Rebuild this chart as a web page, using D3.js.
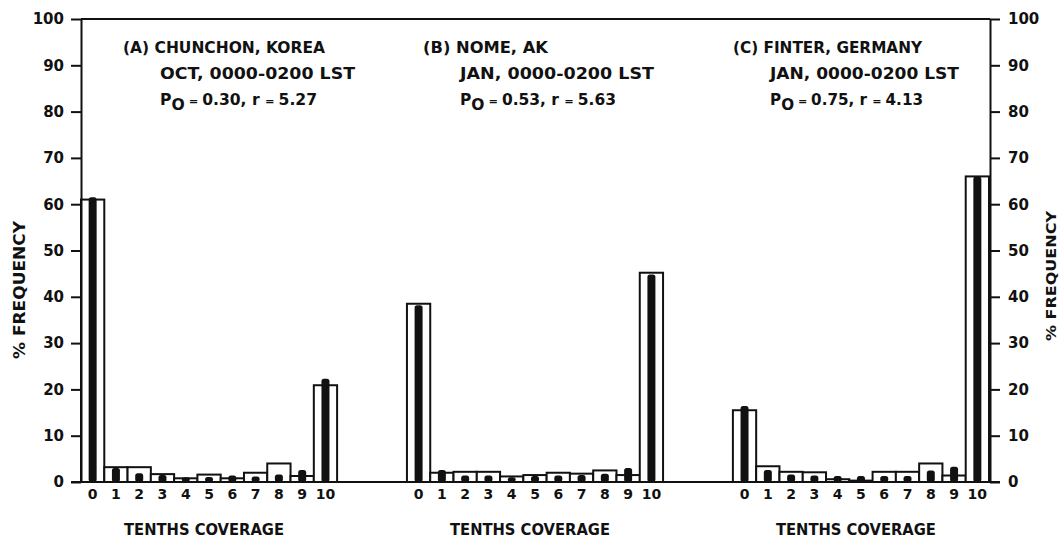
<!DOCTYPE html>
<html>
<head>
<meta charset="utf-8">
<script src="https://cdn.jsdelivr.net/npm/d3@7"></script>
<style>
  html, body { margin: 0; padding: 0; background: #fff; }
  svg { display: block; }
  text { font-family: "DejaVu Sans", sans-serif; font-weight: bold; fill: #111; }
</style>
</head>
<body>
<svg id="chart" width="1060" height="538"></svg>
<script>
// Cloud cover frequency distributions (tenths), observed vs. model
const categories = ["0", "1", "2", "3", "4", "5", "6", "7", "8", "9", "10"];
const yTicks = [0, 10, 20, 30, 40, 50, 60, 70, 80, 90, 100];

// observed % frequency (open bars)
const observedA = [61.0, 3.2, 3.2, 1.7, 0.8, 1.6, 0.8, 2.0, 4.0, 1.3, 20.9];
const observedB = [38.5, 2.0, 2.2, 2.2, 1.2, 1.5, 2.0, 1.8, 2.5, 1.5, 45.2];
const observedC = [15.5, 3.4, 2.2, 2.1, 0.6, 0.3, 2.2, 2.2, 4.0, 1.4, 66.0];

// model % frequency (solid bars)
const modelA = [61.5, 3.0, 1.9, 1.5, 1.0, 1.1, 1.4, 1.2, 1.6, 2.6, 22.3];
const modelB = [38.2, 2.6, 1.4, 1.4, 1.0, 1.3, 1.4, 1.5, 1.8, 3.0, 44.8];
const modelC = [16.4, 2.6, 1.6, 1.4, 1.3, 1.3, 1.3, 1.3, 2.5, 3.3, 66.0];

const stationA = ["(A)", "CHUNCHON, KOREA", "OCT, 0000-0200 LST", "0.30", "5.27"];
const stationB = ["(B)", "NOME, AK", "JAN, 0000-0200 LST", "0.53", "5.63"];
const stationC = ["(C)", "FINTER, GERMANY", "JAN, 0000-0200 LST", "0.75", "4.13"];

const panels = [
  { obs: observedA, mod: modelA, info: stationA },
  { obs: observedB, mod: modelB, info: stationB },
  { obs: observedC, mod: modelC, info: stationC }
];

const svg = d3.select("#chart");
const plotLeft = 81, plotRight = 990, plotTop = 19, plotBottom = 482;

// each panel holds 11 categories followed by a 3-category gap
const panelSpan = 14;
const units = panelSpan * 2 + categories.length;
const xUnit = d3.scaleLinear().domain([0, units]).range([plotLeft, plotRight - 1]);
const y = d3.scaleLinear().domain([0, 100]).range([plotBottom, plotTop]);

// frame: top edge
svg.append("line").attr("x1", plotLeft).attr("x2", plotRight).attr("y1", plotTop).attr("y2", plotTop)
  .attr("stroke", "#111").attr("stroke-width", 2);

panels.forEach((p, i) => {
  const x0 = xUnit(i * panelSpan);
  const x1 = xUnit(i * panelSpan + categories.length);
  const xb = d3.scaleBand().domain(categories).range([x0, x1]).padding(0);
  const g = svg.append("g");

  // observed: open bars
  g.selectAll("rect.obs").data(p.obs).join("rect")
    .attr("class", "obs")
    .attr("x", (d, k) => xb(categories[k]))
    .attr("width", xb.bandwidth())
    .attr("y", d => y(d))
    .attr("height", d => y(0) - y(d))
    .attr("fill", "#fff")
    .attr("stroke", "#111")
    .attr("stroke-width", 2);

  // model: narrow solid bars
  const mw = 8;
  g.selectAll("rect.mod").data(p.mod).join("rect")
    .attr("class", "mod")
    .attr("x", (d, k) => xb(categories[k]) + xb.bandwidth() / 2 - mw / 2)
    .attr("width", mw)
    .attr("y", d => y(d))
    .attr("height", d => y(0) - y(d))
    .attr("rx", 2.5)
    .attr("fill", "#111");

  // category axis
  const ax = svg.append("g")
    .attr("transform", `translate(0,${plotBottom})`)
    .call(d3.axisBottom(xb).tickSize(0).tickPadding(7));
  ax.select(".domain").remove();
  ax.selectAll("text").style("font-size", "14px").style("font-family", "DejaVu Sans, sans-serif").attr("fill", "#111");

  svg.append("text")
    .attr("x", (x0 + x1) / 2 - 5)
    .attr("y", 535)
    .attr("text-anchor", "middle")
    .attr("textLength", 160)
    .attr("lengthAdjust", "spacingAndGlyphs")
    .style("font-size", "15px")
    .text("TENTHS COVERAGE");
});

// panel annotations: label x, text x, and the width of each of the three lines
const annLayout = [
  { lx: 123, tx: 160, w: [202, 195, 157] },
  { lx: 423, tx: 460, w: [125, 194, 156] },
  { lx: 733, tx: 770, w: [189, 189, 153] }
];
panels.forEach((p, i) => {
  const L = annLayout[i];
  svg.append("text").attr("x", L.lx).attr("y", 53).style("font-size", "15px")
    .attr("textLength", L.w[0]).attr("lengthAdjust", "spacingAndGlyphs")
    .text(`${p.info[0]} ${p.info[1]}`);
  svg.append("text").attr("x", L.tx).attr("y", 79).style("font-size", "15px")
    .attr("textLength", L.w[1]).attr("lengthAdjust", "spacingAndGlyphs")
    .text(p.info[2]);
  const t = svg.append("text").attr("x", L.tx).attr("y", 105).style("font-size", "15px")
    .attr("textLength", L.w[2]).attr("lengthAdjust", "spacingAndGlyphs");
  t.append("tspan").text("P");
  t.append("tspan").attr("dy", 5).text("O");
  t.append("tspan").attr("dy", -5).style("font-size", "11px").text(" = ");
  t.append("tspan").text(`${p.info[3]}, r `);
  t.append("tspan").style("font-size", "11px").text("= ");
  t.append("tspan").text(p.info[4]);
});

// baseline
svg.append("line").attr("x1", plotLeft - 10).attr("x2", plotRight + 10).attr("y1", plotBottom).attr("y2", plotBottom)
  .attr("stroke", "#111").attr("stroke-width", 2);

// y axes on both sides
const yl = svg.append("g").attr("transform", `translate(${plotLeft},0)`)
  .call(d3.axisLeft(y).tickValues(yTicks).tickSize(10).tickPadding(7).tickSizeOuter(0));
const yr = svg.append("g").attr("transform", `translate(${plotRight},0)`)
  .call(d3.axisRight(y).tickValues(yTicks).tickSize(10).tickPadding(8).tickSizeOuter(0));
[yl, yr].forEach(a => {
  a.select(".domain").attr("stroke", "#111").attr("stroke-width", 2);
  a.selectAll(".tick line").attr("stroke", "#111").attr("stroke-width", 2);
  a.selectAll("text").style("font-size", "15px").style("font-family", "DejaVu Sans, sans-serif").attr("fill", "#111");
});

svg.append("text")
  .attr("transform", "translate(25,290) rotate(-90)")
  .attr("text-anchor", "middle")
  .attr("textLength", 138)
  .attr("lengthAdjust", "spacingAndGlyphs")
  .style("font-size", "15px")
  .text("% FREQUENCY");
svg.append("text")
  .attr("transform", "translate(1056,276) rotate(-90)")
  .attr("text-anchor", "middle")
  .attr("textLength", 130)
  .attr("lengthAdjust", "spacingAndGlyphs")
  .style("font-size", "14px")
  .text("% FREQUENCY");
</script>
</body>
</html>
